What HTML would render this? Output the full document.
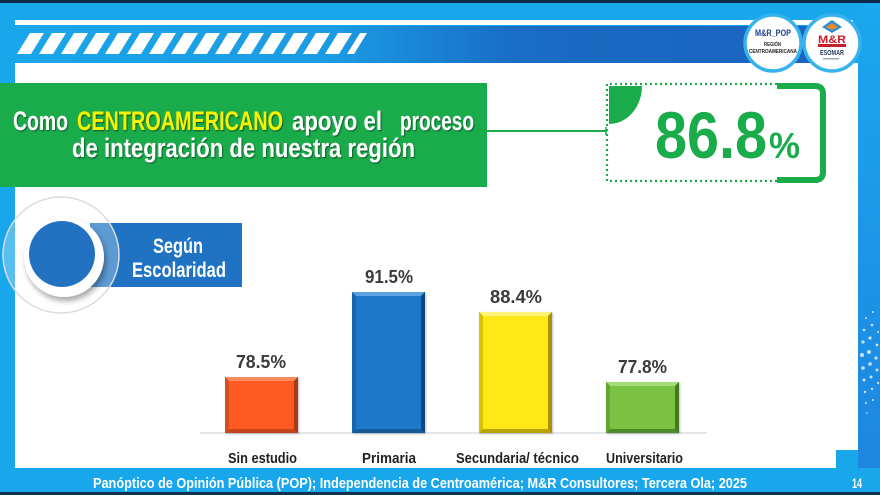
<!DOCTYPE html>
<html>
<head>
<meta charset="utf-8">
<style>
  html,body{margin:0;padding:0;background:#fff;}
  svg{display:block;}
  text{font-family:"Liberation Sans", Arial, sans-serif;font-weight:bold;}
</style>
</head>
<body>
<svg width="880" height="495" viewBox="0 0 880 495" xmlns="http://www.w3.org/2000/svg">
  <defs>
    <linearGradient id="band" x1="0" y1="0" x2="1" y2="0">
      <stop offset="0" stop-color="#1aa6ea"/>
      <stop offset="0.38" stop-color="#1b9be3"/>
      <stop offset="0.6" stop-color="#1a6cc4"/>
      <stop offset="1" stop-color="#1a62bd"/>
    </linearGradient>
    <linearGradient id="rightcol" x1="0" y1="0" x2="0" y2="1">
      <stop offset="0" stop-color="#1aa8ee"/>
      <stop offset="1" stop-color="#1e86e0"/>
    </linearGradient>
    <filter id="ts" x="-5%" y="-20%" width="110%" height="140%">
      <feDropShadow dx="1" dy="1.2" stdDeviation="0.6" flood-color="#000" flood-opacity="0.45"/>
    </filter>
    <filter id="sh" x="-30%" y="-30%" width="160%" height="160%">
      <feDropShadow dx="2" dy="4" stdDeviation="3" flood-color="#000" flood-opacity="0.35"/>
    </filter>
    <filter id="bsh" x="-20%" y="-10%" width="140%" height="120%">
      <feDropShadow dx="1" dy="1" stdDeviation="1" flood-color="#000" flood-opacity="0.25"/>
    </filter>
  </defs>

  <!-- base background light blue -->
  <rect x="0" y="0" width="880" height="495" fill="#18a7eb"/>
  <rect x="0" y="0" width="880" height="3" fill="#0d2a48"/>
  <rect x="858" y="3" width="22" height="465" fill="url(#rightcol)"/>
  <!-- dots on right column -->
  <g fill="#ffffff" opacity="0.75">
    <circle cx="866" cy="318" r="1"/><circle cx="873" cy="312" r="1"/>
    <circle cx="864" cy="330" r="1.3"/><circle cx="872" cy="325" r="1.3"/><circle cx="878" cy="332" r="1"/>
    <circle cx="863" cy="342" r="1.6"/><circle cx="870" cy="338" r="1.6"/><circle cx="877" cy="345" r="1.4"/>
    <circle cx="862" cy="355" r="2"/><circle cx="869" cy="352" r="2"/><circle cx="876" cy="358" r="1.6"/>
    <circle cx="863" cy="368" r="1.8"/><circle cx="870" cy="364" r="1.8"/><circle cx="877" cy="370" r="1.5"/>
    <circle cx="864" cy="380" r="1.5"/><circle cx="871" cy="377" r="1.5"/><circle cx="878" cy="383" r="1.2"/>
    <circle cx="865" cy="392" r="1.2"/><circle cx="872" cy="389" r="1.2"/>
    <circle cx="866" cy="403" r="1"/><circle cx="873" cy="400" r="1"/>
    <circle cx="867" cy="413" r="0.8"/>
  </g>

  <!-- white top line -->
  <rect x="15" y="20" width="838" height="5" fill="#ffffff"/>
  <!-- blue band -->
  <rect x="15" y="26" width="838" height="37" fill="url(#band)"/>
  <!-- stripes -->
  <g fill="#ffffff">
    <polygon points="17,54 30,33 44,33 31,54"/>
    <polygon points="39,54 52,33 66,33 53,54"/>
    <polygon points="61,54 74,33 88,33 75,54"/>
    <polygon points="83,54 96,33 110,33 97,54"/>
    <polygon points="105,54 118,33 132,33 119,54"/>
    <polygon points="127,54 140,33 154,33 141,54"/>
    <polygon points="149,54 162,33 176,33 163,54"/>
    <polygon points="171,54 184,33 198,33 185,54"/>
    <polygon points="193,54 206,33 220,33 207,54"/>
    <polygon points="215,54 228,33 242,33 229,54"/>
    <polygon points="237,54 250,33 264,33 251,54"/>
    <polygon points="259,54 272,33 286,33 273,54"/>
    <polygon points="281,54 294,33 308,33 295,54"/>
    <polygon points="303,54 316,33 330,33 317,54"/>
    <polygon points="325,54 338,33 352,33 339,54"/>
    <polygon points="347,54 360,33 367,33 354,54"/>
  </g>

  <!-- white content area -->
  <rect x="15" y="63" width="843" height="405" fill="#ffffff"/>
  <rect x="836" y="450" width="22" height="18" fill="#18a7eb"/>

  <!-- footer -->
  <rect x="0" y="468" width="880" height="24" fill="#18a7eb"/>
  <rect x="0" y="492" width="880" height="3" fill="#13324f"/>
  <text x="93" y="488" font-size="15" fill="#ffffff" textLength="654" lengthAdjust="spacingAndGlyphs">Panóptico de Opinión Pública (POP); Independencia de Centroamérica; M&amp;R Consultores; Tercera Ola; 2025</text>
  <text x="852" y="488" font-size="14" fill="#ffffff" textLength="10" lengthAdjust="spacingAndGlyphs">14</text>

  <!-- logos -->
  <g>
    <circle cx="773" cy="43" r="28" fill="#ffffff" stroke="#36b3ef" stroke-width="3.5"/>
    <text x="755" y="36" font-size="9" fill="#1c3f8a" textLength="36" lengthAdjust="spacingAndGlyphs">M&amp;R_POP</text>
    <text x="764" y="46" font-size="5" fill="#222" textLength="17" lengthAdjust="spacingAndGlyphs">REGIÓN</text>
    <text x="749" y="53" font-size="5" fill="#222" textLength="48" lengthAdjust="spacingAndGlyphs">CENTROAMERICANA</text>
    <circle cx="832" cy="43" r="28" fill="#ffffff" stroke="#36b3ef" stroke-width="3.5"/>
    <polygon points="822,27 832,20 842,27 832,33" fill="#2a8fd6"/>
    <polygon points="826,27 832,23 838,27 832,30" fill="#f08a24"/>
    <text x="818" y="43" font-size="11" fill="#c8202a" textLength="28" lengthAdjust="spacingAndGlyphs">M&amp;R</text>
    <rect x="818" y="44" width="28" height="3" fill="#c8202a"/>
    <text x="820" y="55" font-size="7" fill="#2a3a5a" textLength="24" lengthAdjust="spacingAndGlyphs">ESOMAR</text>
    <rect x="823" y="58" width="16" height="1.5" fill="#9ab"/>
  </g>

  <!-- green banner -->
  <rect x="0" y="83" width="487" height="104" fill="#1aab4b"/>
  <g filter="url(#ts)" font-size="27">
    <text x="13" y="130" fill="#ffffff" textLength="55" lengthAdjust="spacingAndGlyphs">Como</text>
    <text x="77" y="130" fill="#f7f300" textLength="206" lengthAdjust="spacingAndGlyphs">CENTROAMERICANO</text>
    <text x="292" y="130" fill="#ffffff" textLength="90" lengthAdjust="spacingAndGlyphs">apoyo el</text>
    <text x="400" y="130" fill="#ffffff" textLength="74" lengthAdjust="spacingAndGlyphs">proceso</text>
    <text x="72" y="157" fill="#ffffff" textLength="343" lengthAdjust="spacingAndGlyphs">de integración de nuestra región</text>
  </g>

  <!-- connector line -->
  <line x1="487" y1="131" x2="607" y2="131" stroke="#1aab4b" stroke-width="2"/>
  <line x1="606" y1="127" x2="606" y2="135" stroke="#1aab4b" stroke-width="1.5"/>

  <!-- 86.8% box -->
  <path d="M777,84 H607 V181 H777" fill="none" stroke="#1aab4b" stroke-width="2.2" stroke-dasharray="2 3"/>
  <path d="M777,86 H815 Q823,86 823,94 V172 Q823,180 815,180 H777" fill="none" stroke="#1aab4b" stroke-width="6"/>
  <path d="M609,86 H642 A33,38 0 0 1 609,124 Z" fill="#1aab4b"/>
  <text x="655" y="158" font-size="66" fill="#1aab4b" textLength="112" lengthAdjust="spacingAndGlyphs">86.8</text>
  <text x="769" y="158" font-size="36" fill="#1aab4b" textLength="31" lengthAdjust="spacingAndGlyphs">%</text>

  <!-- Según Escolaridad -->
  <rect x="90" y="223" width="152" height="64" fill="#1f73c2"/>
  <circle cx="61" cy="255" r="58" fill="#ffffff" fill-opacity="0.28" stroke="#d8dde2" stroke-width="1.5"/>
  <circle cx="64" cy="257" r="40" fill="#ffffff" filter="url(#sh)"/>
  <circle cx="62" cy="254" r="33" fill="#2372c2"/>
  <text x="153" y="253" font-size="21" fill="#ffffff" textLength="50" lengthAdjust="spacingAndGlyphs">Según</text>
  <text x="132" y="277" font-size="21" fill="#ffffff" textLength="94" lengthAdjust="spacingAndGlyphs">Escolaridad</text>

  <!-- axis -->
  <line x1="200" y1="433" x2="707" y2="433" stroke="#e3e6ea" stroke-width="2"/>

  <!-- bars -->
  <g filter="url(#bsh)">
    <!-- orange -->
    <rect x="225" y="377" width="73" height="56" fill="#c2441b"/>
    <polygon points="225,377 298,377 294,381 229,381" fill="#ff8c5e"/>
    <polygon points="225,377 229,381 229,429 225,433" fill="#d65020"/>
    <polygon points="298,377 294,381 294,429 298,433" fill="#a83a15"/>
    <rect x="229" y="381" width="65" height="48" fill="#ff5a22"/>
    <!-- blue -->
    <rect x="352" y="292" width="73" height="141" fill="#155a9a"/>
    <polygon points="352,292 425,292 421,296 356,296" fill="#5aa2e0"/>
    <polygon points="352,292 356,296 356,429 352,433" fill="#1966ae"/>
    <polygon points="425,292 421,296 421,429 425,433" fill="#114a80"/>
    <rect x="356" y="296" width="65" height="133" fill="#1f78c8"/>
    <!-- yellow -->
    <rect x="479" y="312" width="73" height="121" fill="#b9a300"/>
    <polygon points="479,312 552,312 548,316 483,316" fill="#fff47a"/>
    <polygon points="479,312 483,316 483,429 479,433" fill="#d8c200"/>
    <polygon points="552,312 548,316 548,429 552,433" fill="#a89300"/>
    <rect x="483" y="316" width="65" height="113" fill="#ffe817"/>
    <!-- green -->
    <rect x="606" y="382" width="73" height="51" fill="#4d8a2a"/>
    <polygon points="606,382 679,382 675,386 610,386" fill="#a6dc78"/>
    <polygon points="606,382 610,386 610,429 606,433" fill="#62a634"/>
    <polygon points="679,382 675,386 675,429 679,433" fill="#457a24"/>
    <rect x="610" y="386" width="65" height="43" fill="#7cc243"/>
  </g>

  <!-- value labels -->
  <g font-size="18" fill="#3a3a3a">
    <text x="236" y="368" textLength="50" lengthAdjust="spacingAndGlyphs">78.5%</text>
    <text x="365" y="283" textLength="48" lengthAdjust="spacingAndGlyphs">91.5%</text>
    <text x="490" y="303" textLength="52" lengthAdjust="spacingAndGlyphs">88.4%</text>
    <text x="618" y="373" textLength="49" lengthAdjust="spacingAndGlyphs">77.8%</text>
  </g>

  <!-- category labels -->
  <g font-size="15" fill="#222222">
    <text x="228" y="463" textLength="69" lengthAdjust="spacingAndGlyphs">Sin estudio</text>
    <text x="362" y="463" textLength="54" lengthAdjust="spacingAndGlyphs">Primaria</text>
    <text x="456" y="463" textLength="123" lengthAdjust="spacingAndGlyphs">Secundaria/ técnico</text>
    <text x="606" y="463" textLength="77" lengthAdjust="spacingAndGlyphs">Universitario</text>
  </g>
</svg>
</body>
</html>
